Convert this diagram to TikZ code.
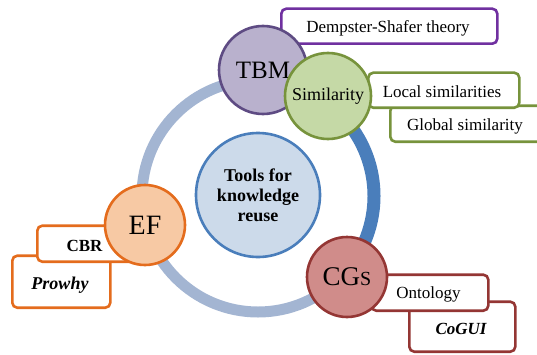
\documentclass[tikz,border=0pt]{standalone}
\usepackage{fontspec}
\setmainfont{Liberation Serif}
\usetikzlibrary{calc}
\definecolor{ringlight}{HTML}{A3B5D2}
\definecolor{ringdark}{HTML}{4A7EBB}
\definecolor{cfill}{HTML}{CCDAEA}
\definecolor{cdraw}{HTML}{4A7EBB}
\definecolor{tbmfill}{HTML}{B9B1CD}
\definecolor{tbmdraw}{HTML}{5E4B83}
\definecolor{dsdraw}{HTML}{7030A0}
\definecolor{simfill}{HTML}{C5D9A6}
\definecolor{simdraw}{HTML}{77933C}
\definecolor{effill}{HTML}{F7C9A4}
\definecolor{efdraw}{HTML}{E46C1D}
\definecolor{cgfill}{HTML}{D08C8A}
\definecolor{cgdraw}{HTML}{943634}
\tikzset{
  sat/.style={circle, draw, line width=2.6pt, inner sep=0pt},
  tbox/.style={rectangle, rounded corners=5pt, draw, fill=white, line width=2.6pt,
    inner sep=0pt, anchor=south west, font=\fontsize{17}{17}\selectfont},
}
\begin{document}
\begin{tikzpicture}[x=1pt,y=1pt]
\useasboundingbox (0,0) rectangle (537,354);
\clip (0,0) rectangle (537,354);
% ring
\coordinate (rc) at (258,158);
\draw[ringlight, line width=11pt] (rc) circle (116);
\draw[ringdark, line width=13pt] ($(rc)+(60:116)$) arc (60:-48:116);
% center
\node[circle, draw=cdraw, fill=cfill, line width=2.6pt, minimum size=124pt, inner sep=0pt,
  align=center, font=\bfseries\fontsize{18}{20}\selectfont] (center) at (258,159)
  {Tools for\\knowledge\\reuse};
% boxes
\node[tbox, draw=efdraw, minimum width=98pt, minimum height=52pt] (prowhy) at (11,45) {};
\node[font=\bfseries\itshape\fontsize{18}{18}\selectfont] (prowhyt) at (60,69) {Prowhy};
\node[tbox, draw=efdraw, minimum width=97pt, minimum height=36pt] (cbr) at (36,91) {};
\node[font=\bfseries\fontsize{17}{17}\selectfont] (cbrt) at (84.5,108) {CBR};
\node[tbox, draw=simdraw, minimum width=152pt, minimum height=36pt] (glob) at (389,211) {};
\node[font=\fontsize{17}{17}\selectfont] (globt) at (465,228) {Global similarity};
\node[tbox, draw=simdraw, minimum width=151pt, minimum height=35pt] (loc) at (367,245) {};
\node[font=\fontsize{17}{17}\selectfont] (loct) at (442,262) {Local similarities};
\node[tbox, draw=cgdraw, minimum width=106pt, minimum height=50pt] (cogui) at (408,1) {};
\node[font=\bfseries\itshape\fontsize{17}{17}\selectfont] (coguit) at (461,25) {CoGUI};
\node[tbox, draw=cgdraw, minimum width=117pt, minimum height=36pt] (onto) at (370,42) {};
\node[font=\fontsize{17}{17}\selectfont] (ontot) at (428.5,60) {Ontology};
\node[tbox, draw=dsdraw, minimum width=216pt, minimum height=35pt] (ds) at (280,309) {};
\node[font=\fontsize{17}{17}\selectfont] (dst) at (388,326) {Dempster-Shafer theory};
% satellites
\node[sat, draw=efdraw, fill=effill, minimum size=80pt, font=\fontsize{28}{28}\selectfont] (ef) at (145,129) {EF};
\node[sat, draw=cgdraw, fill=cgfill, minimum size=80pt] (cgs) at (347,77)
  {\fontsize{27}{27}\selectfont CG{\fontsize{20}{20}\selectfont S}};
\node[sat, draw=tbmdraw, fill=tbmfill, minimum size=88pt, font=\fontsize{25}{25}\selectfont] (tbm) at (263,284) {TBM};
\node[sat, draw=simdraw, fill=simfill, minimum size=86pt, font=\fontsize{18}{18}\selectfont] (sim) at (328,258) {Similarity};
\end{tikzpicture}
\end{document}
